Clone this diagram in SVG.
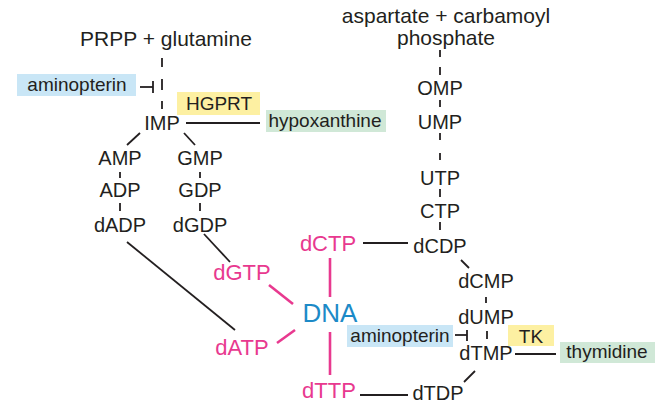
<svg xmlns="http://www.w3.org/2000/svg" width="662" height="417" viewBox="0 0 662 417">
<style>
text{font-family:"Liberation Sans",Arial,Helvetica,sans-serif;text-anchor:middle;fill:#231f20}
.t{font-size:21px}
.m{font-size:20px}
.b{font-size:19px}
.p{font-size:22px;fill:#e8398f}
.dna{font-size:26px;fill:#1c8ac7}
.ln{stroke:#231f20;stroke-width:1.8;fill:none}
.pk{stroke:#e8398f;stroke-width:2.6;fill:none}
.blue{fill:#c9e6f6}
.yel{fill:#fdf0a2}
.grn{fill:#d0e8d7}
</style>
<rect width="662" height="417" fill="#ffffff"/>
<g id="connectors">
<line class="ln" x1="162" y1="58" x2="162" y2="67"/>
<line class="ln" x1="162" y1="79" x2="162" y2="90"/>
<line class="ln" x1="162" y1="101" x2="162" y2="109"/>
<line class="ln" x1="140" y1="87" x2="153" y2="87"/>
<line class="ln" x1="153" y1="81" x2="153" y2="93"/>
<line class="ln" x1="186" y1="123" x2="260" y2="123"/>
<line class="ln" x1="140" y1="133" x2="127" y2="145"/>
<line class="ln" x1="184" y1="133" x2="195" y2="145"/>
<line class="ln" x1="120" y1="172" x2="120" y2="178"/>
<line class="ln" x1="120" y1="203" x2="120" y2="211"/>
<line class="ln" x1="200" y1="172" x2="200" y2="178"/>
<line class="ln" x1="200" y1="203" x2="200" y2="211"/>
<line class="ln" x1="127" y1="242" x2="235" y2="330"/>
<line class="ln" x1="204" y1="234" x2="230" y2="262"/>
<line class="pk" x1="269" y1="285" x2="293" y2="304"/>
<line class="pk" x1="277" y1="343" x2="295" y2="330"/>
<line class="pk" x1="330" y1="258" x2="330" y2="297"/>
<line class="pk" x1="330" y1="332" x2="330" y2="375"/>
<line class="ln" x1="440" y1="50" x2="440" y2="57"/>
<line class="ln" x1="440" y1="67" x2="440" y2="75"/>
<line class="ln" x1="440" y1="100" x2="440" y2="107"/>
<line class="ln" x1="440" y1="133" x2="440" y2="140"/>
<line class="ln" x1="440" y1="153" x2="440" y2="160"/>
<line class="ln" x1="440" y1="189" x2="440" y2="197"/>
<line class="ln" x1="440" y1="222" x2="440" y2="230"/>
<line class="ln" x1="363" y1="243" x2="408" y2="243"/>
<line class="ln" x1="461" y1="260" x2="469" y2="268"/>
<line class="ln" x1="486" y1="297" x2="486" y2="303"/>
<line class="ln" x1="487" y1="331" x2="487" y2="339"/>
<line class="ln" x1="455" y1="335" x2="467" y2="335"/>
<line class="ln" x1="467" y1="330" x2="467" y2="341"/>
<line class="ln" x1="515" y1="354" x2="556" y2="354"/>
<line class="ln" x1="475" y1="371" x2="464" y2="382"/>
<line class="ln" x1="360" y1="395" x2="408" y2="395"/>
</g>
<g id="prpp"><text class="t" x="166" y="46">PRPP + glutamine</text></g>
<g id="aspartate"><text class="t" x="446" y="23">aspartate + carbamoyl</text><text class="t" x="446" y="45">phosphate</text></g>
<g id="aminopterin1"><rect class="blue" x="17" y="74" width="119" height="22"/><text class="b" x="77" y="91">aminopterin</text></g>
<g id="hgprt"><rect class="yel" x="177" y="92" width="83" height="23"/><text class="b" x="219" y="110">HGPRT</text></g>
<g id="hypoxanthine"><rect class="grn" x="266" y="110" width="120" height="22"/><text class="b" x="325" y="127">hypoxanthine</text></g>
<g id="imp"><text class="m" x="162" y="130">IMP</text></g>
<g id="amp"><text class="m" x="120" y="165">AMP</text></g>
<g id="adp"><text class="m" x="120" y="197">ADP</text></g>
<g id="dadp"><text class="m" x="120" y="232">dADP</text></g>
<g id="gmp"><text class="m" x="200" y="165">GMP</text></g>
<g id="gdp"><text class="m" x="200" y="197">GDP</text></g>
<g id="dgdp"><text class="m" x="200" y="232">dGDP</text></g>
<g id="dgtp"><text class="p" x="242" y="280">dGTP</text></g>
<g id="datp"><text class="p" x="242" y="355">dATP</text></g>
<g id="dctp"><text class="p" x="328" y="251">dCTP</text></g>
<g id="dttp"><text class="p" x="329" y="398">dTTP</text></g>
<g id="dna"><text class="dna" x="330" y="322">DNA</text></g>
<g id="omp"><text class="m" x="440" y="95">OMP</text></g>
<g id="ump"><text class="m" x="440" y="129">UMP</text></g>
<g id="utp"><text class="m" x="440" y="185">UTP</text></g>
<g id="ctp"><text class="m" x="440" y="218">CTP</text></g>
<g id="dcdp"><text class="m" x="440" y="253">dCDP</text></g>
<g id="dcmp"><text class="m" x="486" y="288">dCMP</text></g>
<g id="dump"><text class="m" x="486" y="324">dUMP</text></g>
<g id="dtmp"><text class="m" x="486" y="360">dTMP</text></g>
<g id="dtdp"><text class="m" x="438" y="400">dTDP</text></g>
<g id="aminopterin2"><rect class="blue" x="347" y="325" width="106" height="22"/><text class="b" x="400" y="342">aminopterin</text></g>
<g id="tk"><rect class="yel" x="508" y="325" width="46" height="21"/><text class="b" x="531" y="343">TK</text></g>
<g id="thymidine"><rect class="grn" x="560" y="342" width="95" height="21"/><text class="b" x="607" y="358">thymidine</text></g>
</svg>
